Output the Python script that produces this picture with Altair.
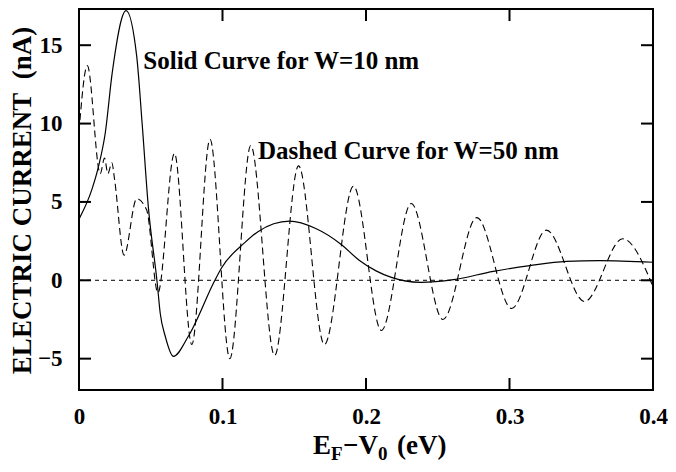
import altair as alt
import pandas as pd

# ---- data ----
solid_x = [0.0, 0.009, 0.0137, 0.0183, 0.0231, 0.0328, 0.0402, 0.044, 0.0483, 0.0545,
           0.0566, 0.0601, 0.0658, 0.0762, 0.0947, 0.0994, 0.1155, 0.1247, 0.1467,
           0.165, 0.1825, 0.195, 0.207, 0.2172, 0.238, 0.261, 0.2887, 0.3142, 0.3396,
           0.3627, 0.4]
solid_y = [3.9, 5.8, 7.3, 9.4, 13.2, 17.2, 14.3, 10.0, 4.7, -0.17,
           -2.1, -3.57, -4.85, -3.57, 0.0, 0.8, 2.4, 3.1, 3.77,
           3.3, 2.3, 1.3, 0.6, 0.2, -0.13, 0.04, 0.57, 0.94, 1.21,
           1.26, 1.15]

dashed_x = [0.0, 0.0058, 0.0148, 0.0178, 0.0201, 0.0229, 0.0247, 0.0314, 0.0402, 0.0471,
            0.055, 0.0665, 0.0786, 0.0913, 0.1051, 0.1197, 0.1363, 0.153, 0.171,
            0.1913, 0.2107, 0.2315, 0.2536, 0.2772, 0.3015, 0.3257, 0.3523, 0.3789, 0.4]
dashed_y = [9.5, 13.7, 6.8, 7.8, 6.8, 7.5, 6.5, 1.6, 5.2, 4.5,
            -0.8, 8.1, -4.1, 9.0, -5.0, 8.6, -4.8, 7.3, -4.1,
            6.0, -3.2, 4.9, -2.5, 4.0, -1.8, 3.2, -1.35, 2.65, -0.4]

x_ticks = [0, 0.1, 0.2, 0.3, 0.4]
y_ticks = [-5, 0, 5, 10, 15]
zero_line = [0]

note_text = ["Solid Curve for W=10 nm", "Dashed Curve for W=50 nm"]
note_x = [0.0448, 0.1247]
note_y = [13.48, 7.74]

x_title_parts = ["E", "F", "\u2212V", "0", "(eV)"]
y_title = "ELECTRIC CURRENT\u00a0\u00a0(nA)"

# ---- layout ----
W, H = 574, 381
FONT = "Liberation Serif, Times New Roman, Nimbus Roman, DejaVu Serif, serif"
TICK = 12

xs = alt.Scale(domain=[0, 0.4], nice=False, zero=False)
ys = alt.Scale(domain=[-7, 17.31], nice=False, zero=False)

x_axis = alt.Axis(values=x_ticks, format="~g", ticks=False, domain=False, grid=False,
                  labelFont=FONT, labelFontWeight="bold", labelFontSize=23,
                  labelColor="black", labelPadding=15, labelFlush=False, title=None)
y_axis = alt.Axis(values=y_ticks, format="d", ticks=False, domain=False, grid=False,
                  labelFont=FONT, labelFontWeight="bold", labelFontSize=23,
                  labelColor="black", labelPadding=17, title=y_title,
                  titleFont=FONT, titleFontWeight="bold", titleFontSize=27,
                  titleColor="black", titleX=-49, titleY=191, titleAngle=270,
                  titleBaseline="alphabetic", titleAlign="center")

solid_df = pd.DataFrame({"x": solid_x, "y": solid_y})
dashed_df = pd.DataFrame({"x": dashed_x, "y": dashed_y})
xt_df = pd.DataFrame({"x": x_ticks})
yt_df = pd.DataFrame({"y": y_ticks})
zero_df = pd.DataFrame({"y": zero_line})
note_df = pd.DataFrame({"x": note_x, "y": note_y, "t": note_text})

solid = alt.Chart(solid_df).mark_line(color="black", strokeWidth=1.2,
                                      interpolate="monotone", clip=True).encode(
    x=alt.X("x:Q", scale=xs, axis=x_axis),
    y=alt.Y("y:Q", scale=ys, axis=y_axis))

dashed = alt.Chart(dashed_df).mark_line(color="black", strokeWidth=1.1, strokeDash=[7, 4],
                                        interpolate="monotone", clip=True).encode(
    x=alt.X("x:Q", scale=xs, axis=x_axis),
    y=alt.Y("y:Q", scale=ys, axis=y_axis))

zero = alt.Chart(zero_df).mark_rule(color="black", strokeWidth=1, strokeDash=[4, 4]).encode(
    y=alt.Y("y:Q", scale=ys, axis=y_axis), x=alt.value(0), x2=alt.value(W))

left_ticks = alt.Chart(yt_df).mark_rule(color="black", strokeWidth=2).encode(
    y=alt.Y("y:Q", scale=ys, axis=y_axis), x=alt.value(0), x2=alt.value(TICK))
right_ticks = alt.Chart(yt_df).mark_rule(color="black", strokeWidth=2).encode(
    y=alt.Y("y:Q", scale=ys, axis=y_axis), x=alt.value(W - TICK), x2=alt.value(W))
bottom_ticks = alt.Chart(xt_df).mark_rule(color="black", strokeWidth=2).encode(
    x=alt.X("x:Q", scale=xs, axis=x_axis), y=alt.value(H - TICK), y2=alt.value(H))
top_ticks = alt.Chart(xt_df).mark_rule(color="black", strokeWidth=2).encode(
    x=alt.X("x:Q", scale=xs, axis=x_axis), y=alt.value(0), y2=alt.value(TICK))

notes = alt.Chart(note_df).mark_text(align="left", baseline="alphabetic", font=FONT,
                                     fontWeight="bold", fontSize=25, color="black").encode(
    x=alt.X("x:Q", scale=xs, axis=x_axis), y=alt.Y("y:Q", scale=ys, axis=y_axis), text="t:N")


def title_piece(txt, px, py, size):
    return alt.Chart(pd.DataFrame({"t": [txt]})).mark_text(
        align="left", baseline="alphabetic", font=FONT, fontWeight="bold",
        fontSize=size, color="black").encode(
        text="t:N", x=alt.value(px), y=alt.value(py))


xt = [
    title_piece(x_title_parts[0], 234, 445, 27),
    title_piece(x_title_parts[1], 252, 451, 19),
    title_piece(x_title_parts[2], 264, 445, 27),
    title_piece(x_title_parts[3], 299, 451, 19),
    title_piece(x_title_parts[4], 318, 445, 27),
]

chart = alt.layer(zero, dashed, solid, left_ticks, right_ticks, bottom_ticks, top_ticks,
                  notes, *xt).properties(
    width=W, height=H,
    padding={"left": 71, "top": 1, "right": 15, "bottom": 74},
    autosize=alt.AutoSizeParams(type="none"),
).configure_view(stroke="black", strokeWidth=2)

chart.save("out.html", embed_options={"renderer": "svg", "actions": False})
